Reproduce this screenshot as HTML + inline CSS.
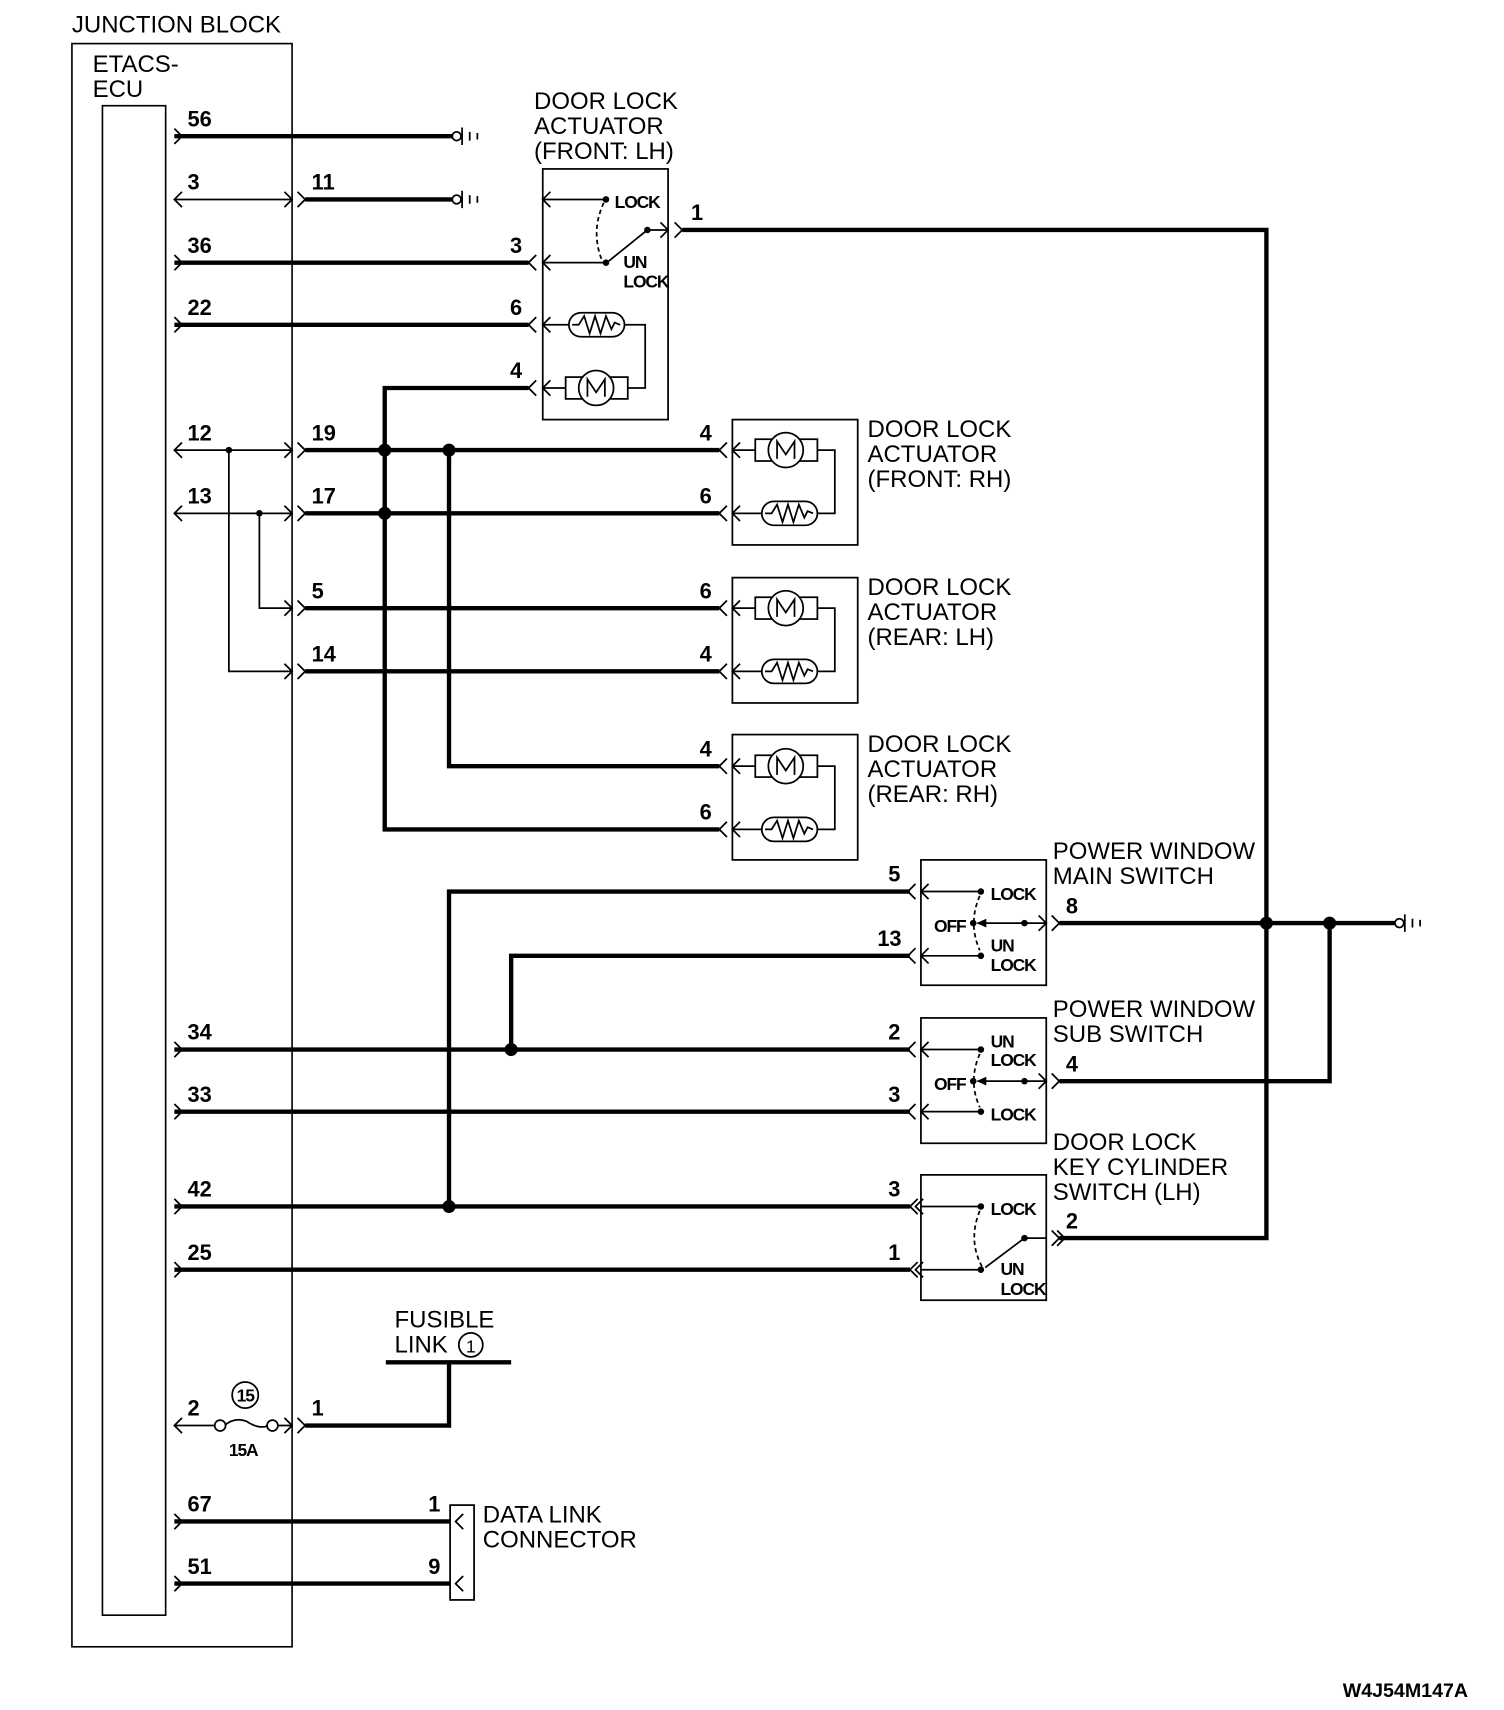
<!DOCTYPE html>
<html><head><meta charset="utf-8"><style>
html,body{margin:0;padding:0;background:#fff}
svg{display:block}
.t{font-family:"Liberation Sans",sans-serif;font-size:22px;fill:#000}
.p{font-family:"Liberation Sans",sans-serif;font-size:20px;font-weight:bold;fill:#000}
.s{font-family:"Liberation Sans",sans-serif;font-size:16px;font-weight:bold;fill:#000;letter-spacing:-1px}
</style></head><body>
<svg width="1504" height="1710" viewBox="0 0 1380 1569" preserveAspectRatio="none" xmlns="http://www.w3.org/2000/svg">
<defs>
<g id="motor" stroke="#000" stroke-width="1.6" fill="#fff"><rect x="-28" y="-10" width="57" height="20"/><circle cx="0" cy="0" r="16"/><path d="M-8 8 V-8 L0 4 L8 -8 V8" fill="none"/></g>
<g id="heat" stroke="#000" stroke-width="1.6" fill="#fff"><rect x="-25" y="-11" width="51" height="22" rx="11"/><path d="M-22 0 H-16 L-11 -8 L-6 8 L-1 -8 L4 8 L9 -8 L14 4 L17 -2 L22 0" fill="none"/></g>
<path id="gl" d="M7 -7 L0 0 L7 7" fill="none" stroke="#000" stroke-width="1.6"/>
<path id="gr" d="M-7 -7 L0 0 L-7 7" fill="none" stroke="#000" stroke-width="1.6"/>
<g id="gnd" stroke="#000" stroke-width="1.6" fill="#fff"><circle cx="4" cy="0" r="4"/><path d="M9 -8 V8 M16 -4 V4 M23 -3 V3"/></g>
</defs>
<g fill="none" stroke="#000">
<rect x="66" y="40" width="202" height="1471" stroke-width="1.5"/>
<rect x="94" y="97" width="58" height="1385" stroke-width="1.5"/>
</g>
<text class="t" x="66" y="30">JUNCTION BLOCK</text>
<text class="t" x="85" y="66">ETACS-</text>
<text class="t" x="85" y="89">ECU</text>

<g stroke="#000" stroke-width="1.6" fill="none">
<path d="M160 183 H268 M160 413 H268 M160 471 H268 M210 413 V616 H268 M238 471 V558 H268 M160 1308 H198 M254 1308 H268"/>
<path d="M206 1308 Q215 1300 226 1304 Q238 1312 246 1308"/>
<circle cx="202" cy="1308" r="5" fill="#fff"/><circle cx="250" cy="1308" r="5" fill="#fff"/>
</g>
<g fill="#000"><circle cx="210" cy="413" r="3"/><circle cx="238" cy="471" r="3"/></g>

<g stroke="#000" stroke-width="4" fill="none">
<path d="M160 125 H415"/>
<path d="M280 183 H415"/>
<path d="M160 241 H485"/>
<path d="M160 298 H485"/>
<path d="M485 356 H353 V761 H660"/>
<path d="M280 413 H660"/>
<path d="M412 413 V703 H660"/>
<path d="M280 471 H660"/>
<path d="M280 558 H660"/>
<path d="M280 616 H660"/>
<path d="M626 211 H1162 V1136 H972"/>
<path d="M835 818 H412 V1107 H835"/>
<path d="M160 1107 H412"/>
<path d="M835 877 H469 V963"/>
<path d="M972 847 H1280"/>
<path d="M972 992 H1220 V847"/>
<path d="M160 963 H835"/>
<path d="M160 1020 H835"/>
<path d="M160 1165 H835"/>
<path d="M280 1308 H412 V1250"/>
<path d="M354 1250 H469"/>
<path d="M160 1396 H413"/>
<path d="M160 1453 H413"/>
</g>
<g fill="#000"><circle cx="353" cy="413" r="6"/><circle cx="412" cy="413" r="6"/><circle cx="353" cy="471" r="6"/><circle cx="469" cy="963" r="6"/><circle cx="412" cy="1107" r="6"/><circle cx="1162" cy="847" r="6"/><circle cx="1220" cy="847" r="6"/></g>

<use href="#gnd" x="415" y="125"/><use href="#gnd" x="415" y="183"/><use href="#gnd" x="1280" y="847"/>

<use href="#gr" x="167" y="125"/><use href="#gl" x="160" y="183"/><use href="#gr" x="167" y="241"/><use href="#gr" x="167" y="298"/>
<use href="#gl" x="160" y="413"/><use href="#gl" x="160" y="471"/>
<use href="#gr" x="167" y="963"/><use href="#gr" x="167" y="1020"/><use href="#gr" x="167" y="1107"/><use href="#gr" x="167" y="1165"/>
<use href="#gl" x="160" y="1308"/><use href="#gr" x="167" y="1396"/><use href="#gr" x="167" y="1453"/>
<g>
<use href="#gr" x="268" y="183"/><use href="#gr" x="280" y="183"/>
<use href="#gr" x="268" y="413"/><use href="#gr" x="280" y="413"/>
<use href="#gr" x="268" y="471"/><use href="#gr" x="280" y="471"/>
<use href="#gr" x="268" y="558"/><use href="#gr" x="280" y="558"/>
<use href="#gr" x="268" y="616"/><use href="#gr" x="280" y="616"/>
<use href="#gr" x="268" y="1308"/><use href="#gr" x="280" y="1308"/>
</g>

<g>
<text x="172" y="116" class="p">56</text><text x="172" y="174" class="p">3</text><text x="286" y="174" class="p">11</text>
<text x="172" y="232" class="p">36</text><text x="172" y="289" class="p">22</text>
<text x="172" y="404" class="p">12</text><text x="286" y="404" class="p">19</text>
<text x="172" y="462" class="p">13</text><text x="286" y="462" class="p">17</text>
<text x="286" y="549" class="p">5</text><text x="286" y="607" class="p">14</text>
<text x="172" y="954" class="p">34</text><text x="172" y="1011" class="p">33</text>
<text x="172" y="1098" class="p">42</text><text x="172" y="1156" class="p">25</text>
<text x="172" y="1299" class="p">2</text><text x="286" y="1299" class="p">1</text>
<text x="172" y="1387" class="p">67</text><text x="172" y="1444" class="p">51</text>
</g>
<circle cx="225" cy="1280" r="12" fill="none" stroke="#000" stroke-width="1.6"/>
<text class="s" x="225" y="1286" text-anchor="middle">15</text>
<text class="s" x="210" y="1336">15A</text>

<rect x="498" y="155" width="115" height="230" fill="none" stroke="#000" stroke-width="1.6"/>
<text class="t" x="490" y="100">DOOR LOCK</text><text class="t" x="490" y="123">ACTUATOR</text><text class="t" x="490" y="146">(FRONT: LH)</text>
<g stroke="#000" stroke-width="1.6" fill="none">
<path d="M498 183 H556 M498 241 H556 M498 298 H522 M572 298 H592 V356 H576 M498 356 H520 M594 211 H613 M594 211 L558 240"/>
<path d="M554 186 Q542 212 552 238" stroke-dasharray="4 3"/>
</g>
<g fill="#000"><circle cx="556" cy="183" r="3"/><circle cx="556" cy="241" r="3"/><circle cx="594" cy="211" r="3"/></g>
<use href="#heat" x="547" y="298"/><use href="#motor" x="547" y="356"/>
<use href="#gl" x="498" y="183"/><use href="#gl" x="498" y="241"/><use href="#gl" x="485" y="241"/><use href="#gl" x="498" y="298"/><use href="#gl" x="485" y="298"/><use href="#gl" x="498" y="356"/><use href="#gl" x="485" y="356"/>
<use href="#gr" x="613" y="211"/><use href="#gr" x="626" y="211"/>
<text class="s" x="564" y="191">LOCK</text><text class="s" x="572" y="246">UN</text><text class="s" x="572" y="264">LOCK</text>
<text class="p" x="468" y="232">3</text><text class="p" x="468" y="289">6</text><text class="p" x="468" y="347">4</text><text class="p" x="634" y="202">1</text>

<g stroke="#000" stroke-width="1.6" fill="none">
<rect x="672" y="385" width="115" height="115"/><rect x="672" y="530" width="115" height="115"/><rect x="672" y="674" width="115" height="115"/>
<path d="M672 413 H693 M750 413 H766 V471 H750 M672 471 H699"/>
<path d="M672 558 H693 M750 558 H766 V616 H750 M672 616 H699"/>
<path d="M672 703 H693 M750 703 H766 V761 H750 M672 761 H699"/>
</g>
<use href="#motor" x="721" y="413"/><use href="#heat" x="724" y="471"/>
<use href="#motor" x="721" y="558"/><use href="#heat" x="724" y="616"/>
<use href="#motor" x="721" y="703"/><use href="#heat" x="724" y="761"/>
<g>
<use href="#gl" x="660" y="413"/><use href="#gl" x="672" y="413"/><use href="#gl" x="660" y="471"/><use href="#gl" x="672" y="471"/>
<use href="#gl" x="660" y="558"/><use href="#gl" x="672" y="558"/><use href="#gl" x="660" y="616"/><use href="#gl" x="672" y="616"/>
<use href="#gl" x="660" y="703"/><use href="#gl" x="672" y="703"/><use href="#gl" x="660" y="761"/><use href="#gl" x="672" y="761"/>
</g>
<text class="p" x="642" y="404">4</text><text class="p" x="642" y="462">6</text>
<text class="p" x="642" y="549">6</text><text class="p" x="642" y="607">4</text>
<text class="p" x="642" y="694">4</text><text class="p" x="642" y="752">6</text>
<text class="t" x="796" y="401">DOOR LOCK</text><text class="t" x="796" y="424">ACTUATOR</text><text class="t" x="796" y="447">(FRONT: RH)</text>
<text class="t" x="796" y="546">DOOR LOCK</text><text class="t" x="796" y="569">ACTUATOR</text><text class="t" x="796" y="592">(REAR: LH)</text>
<text class="t" x="796" y="690">DOOR LOCK</text><text class="t" x="796" y="713">ACTUATOR</text><text class="t" x="796" y="736">(REAR: RH)</text>

<g stroke="#000" stroke-width="1.6" fill="none">
<rect x="845" y="789" width="115" height="115"/><rect x="845" y="934" width="115" height="115"/><rect x="845" y="1078" width="115" height="115"/>
<path d="M845 818 H900 M845 877 H900 M897 847 H960"/>
<path d="M899 822 Q888 847 899 872" stroke-dasharray="4 3"/>
<path d="M845 963 H900 M845 1020 H900 M897 992 H960"/>
<path d="M899 967 Q888 992 899 1016" stroke-dasharray="4 3"/>
<path d="M845 1107 H900 M845 1165 H900 M940 1136 H960 M940 1136 L904 1163"/>
<path d="M899 1111 Q888 1138 901 1162" stroke-dasharray="4 3"/>
</g>
<g fill="#000">
<circle cx="900" cy="818" r="3"/><circle cx="900" cy="877" r="3"/><circle cx="893" cy="847" r="3"/><circle cx="940" cy="847" r="3"/><path d="M896 847 L905 843 V851 Z"/>
<circle cx="900" cy="963" r="3"/><circle cx="900" cy="1020" r="3"/><circle cx="893" cy="992" r="3"/><circle cx="940" cy="992" r="3"/><path d="M896 992 L905 988 V996 Z"/>
<circle cx="900" cy="1107" r="3"/><circle cx="900" cy="1165" r="3"/><circle cx="940" cy="1136" r="3"/>
</g>
<g>
<use href="#gl" x="833" y="818"/><use href="#gl" x="845" y="818"/><use href="#gl" x="833" y="877"/><use href="#gl" x="845" y="877"/>
<use href="#gl" x="833" y="963"/><use href="#gl" x="845" y="963"/><use href="#gl" x="833" y="1020"/><use href="#gl" x="845" y="1020"/>
<use href="#gl" x="835" y="1107"/><use href="#gl" x="840" y="1107"/><use href="#gl" x="835" y="1165"/><use href="#gl" x="840" y="1165"/>
<use href="#gr" x="960" y="847"/><use href="#gr" x="972" y="847"/><use href="#gr" x="960" y="992"/><use href="#gr" x="972" y="992"/>
<use href="#gr" x="972" y="1136"/><use href="#gr" x="977" y="1136"/>
</g>
<text class="s" x="909" y="826">LOCK</text><text class="s" x="857" y="855">OFF</text><text class="s" x="909" y="873">UN</text><text class="s" x="909" y="891">LOCK</text>
<text class="s" x="909" y="961">UN</text><text class="s" x="909" y="978">LOCK</text><text class="s" x="857" y="1000">OFF</text><text class="s" x="909" y="1028">LOCK</text>
<text class="s" x="909" y="1115">LOCK</text><text class="s" x="918" y="1170">UN</text><text class="s" x="918" y="1188">LOCK</text>
<text class="p" x="815" y="809">5</text><text class="p" x="805" y="868">13</text><text class="p" x="978" y="838">8</text>
<text class="p" x="815" y="954">2</text><text class="p" x="815" y="1011">3</text><text class="p" x="978" y="983">4</text>
<text class="p" x="815" y="1098">3</text><text class="p" x="815" y="1156">1</text><text class="p" x="978" y="1127">2</text>
<text class="t" x="966" y="788">POWER WINDOW</text><text class="t" x="966" y="811">MAIN SWITCH</text>
<text class="t" x="966" y="933">POWER WINDOW</text><text class="t" x="966" y="956">SUB SWITCH</text>
<text class="t" x="966" y="1055">DOOR LOCK</text><text class="t" x="966" y="1078">KEY CYLINDER</text><text class="t" x="966" y="1101">SWITCH (LH)</text>

<text class="t" x="362" y="1218">FUSIBLE</text><text class="t" x="362" y="1241">LINK</text>
<circle cx="432" cy="1234" r="11" fill="none" stroke="#000" stroke-width="1.6"/>
<text class="t" x="432" y="1241" text-anchor="middle" style="font-size:16px">1</text>

<rect x="413" y="1381" width="22" height="87" fill="none" stroke="#000" stroke-width="1.6"/>
<use href="#gl" x="418" y="1396"/><use href="#gl" x="418" y="1453"/>
<text class="p" x="393" y="1387">1</text><text class="p" x="393" y="1444">9</text>
<text class="t" x="443" y="1397">DATA LINK</text><text class="t" x="443" y="1420">CONNECTOR</text>

<text class="p" x="1232" y="1557" style="font-size:18px">W4J54M147A</text>
</svg>
</body></html>
